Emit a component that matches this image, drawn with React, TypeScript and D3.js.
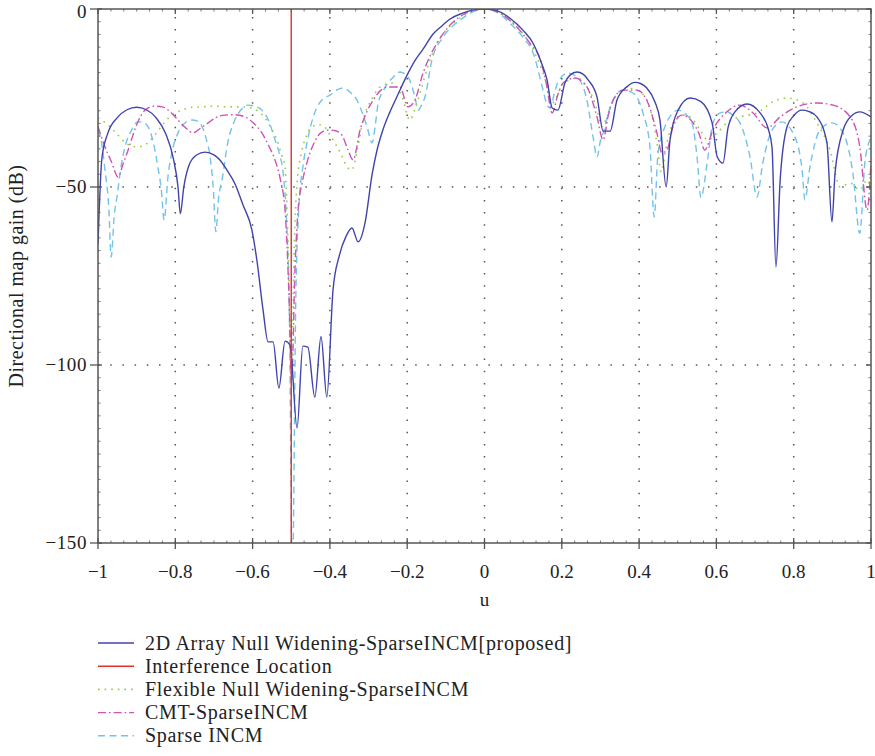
import React from "react";
import * as d3 from "d3";

const blueU = [-1,-0.99,-0.975,-0.95,-0.925,-0.9,-0.875,-0.85,-0.825,-0.805,-0.793,-0.787,-0.778,-0.765,-0.745,-0.723,-0.7,-0.684,-0.665,-0.646,-0.625,-0.602,-0.589,-0.573,-0.56,-0.547,-0.532,-0.516,-0.503,-0.485,-0.47,-0.457,-0.439,-0.423,-0.408,-0.392,-0.376,-0.358,-0.343,-0.327,-0.309,-0.291,-0.278,-0.263,-0.245,-0.226,-0.2,-0.18,-0.159,-0.133,-0.115,-0.089,-0.06,-0.03,0,0.03,0.066,0.1,0.126,0.145,0.162,0.175,0.19,0.208,0.222,0.239,0.255,0.268,0.291,0.307,0.325,0.343,0.369,0.389,0.405,0.42,0.441,0.454,0.47,0.48,0.501,0.532,0.56,0.589,0.602,0.617,0.63,0.648,0.679,0.713,0.735,0.744,0.754,0.765,0.783,0.8,0.821,0.84,0.86,0.886,0.899,0.907,0.928,0.95,0.971,1];
const blueDb = [-66,-42,-35,-30.5,-28.3,-27.6,-28.3,-30.5,-35,-42,-50,-57.5,-50,-44,-41,-40.2,-41,-42.5,-45.5,-49,-55,-62,-70.5,-84.5,-93.5,-93.5,-106.5,-93.3,-94.4,-117.7,-94.7,-95,-109,-92,-109,-79,-69.4,-63.8,-61.5,-65.4,-60,-46.6,-39.6,-34,-29,-24.5,-18.5,-14.5,-11.3,-7,-5.2,-2.8,-1.3,-0.3,0,-0.4,-2.6,-6,-9.7,-14.5,-20,-27.8,-28.4,-20.8,-18.5,-17.7,-18.3,-19.9,-24.7,-34.3,-34.3,-25.5,-21.8,-20.6,-21,-22.2,-26.1,-31.2,-50,-36.8,-28.4,-25,-26,-32,-41.5,-43.3,-33.4,-28.9,-26.7,-29.2,-34,-39,-72.5,-48,-33,-30,-28.4,-28.8,-30.3,-37.6,-59.8,-46,-34,-30,-28.9,-30.3];

const greenU = [-1,-0.98,-0.956,-0.93,-0.904,-0.885,-0.871,-0.85,-0.827,-0.805,-0.783,-0.755,-0.731,-0.7,-0.664,-0.63,-0.602,-0.585,-0.568,-0.552,-0.537,-0.525,-0.516,-0.508,-0.499,-0.493,-0.485,-0.472,-0.46,-0.45,-0.43,-0.415,-0.4,-0.385,-0.37,-0.355,-0.343,-0.33,-0.314,-0.29,-0.27,-0.239,-0.213,-0.193,-0.18,-0.167,-0.141,-0.123,-0.1,-0.07,-0.04,0,0.04,0.08,0.11,0.135,0.162,0.175,0.185,0.2,0.213,0.239,0.265,0.286,0.304,0.317,0.338,0.369,0.402,0.428,0.446,0.457,0.472,0.488,0.511,0.532,0.558,0.578,0.602,0.627,0.661,0.705,0.746,0.783,0.824,0.86,0.894,0.92,0.946,0.971,0.99,1];
const greenDb = [-30.6,-32,-34.5,-37.5,-38.7,-38.5,-37.6,-35,-31.7,-29.5,-28.4,-27.6,-27.5,-27.3,-27.5,-27.5,-27.8,-28.8,-30.6,-33.5,-36.8,-41,-44.4,-66.8,-105,-70,-49,-39.6,-35.5,-33.5,-32.5,-33,-35.4,-38,-41,-44.5,-45.2,-40,-31.2,-25,-21.9,-20.8,-24.7,-31.2,-28,-23.6,-14.3,-9.6,-6,-3,-1,0,-1.2,-4.5,-8.5,-13.5,-21.5,-26.5,-25,-21.5,-20.3,-19.4,-21.9,-26.4,-33,-30.3,-24.7,-22.2,-23.3,-27.8,-37.6,-45.8,-37.6,-32,-29.8,-30.3,-34,-36.8,-34.8,-32,-30.3,-29.2,-26.1,-25,-26.4,-32,-39.6,-50,-48.9,-50.8,-48,-51];

const magU = [-1,-0.982,-0.965,-0.948,-0.935,-0.922,-0.9,-0.878,-0.856,-0.834,-0.812,-0.793,-0.772,-0.754,-0.735,-0.715,-0.695,-0.671,-0.645,-0.62,-0.598,-0.576,-0.558,-0.542,-0.528,-0.516,-0.506,-0.499,-0.49,-0.482,-0.472,-0.459,-0.438,-0.42,-0.4,-0.385,-0.369,-0.353,-0.34,-0.322,-0.305,-0.288,-0.27,-0.25,-0.219,-0.198,-0.18,-0.159,-0.14,-0.123,-0.089,-0.05,0,0.04,0.08,0.12,0.144,0.16,0.175,0.19,0.203,0.234,0.265,0.291,0.307,0.32,0.333,0.358,0.395,0.423,0.446,0.459,0.472,0.488,0.511,0.54,0.555,0.57,0.591,0.627,0.661,0.695,0.731,0.765,0.808,0.86,0.902,0.946,0.971,0.99,1];
const magDb = [-33,-38.7,-43,-47.2,-43.5,-39.6,-32.5,-28.4,-27.3,-27.5,-29,-31.2,-33.5,-34.8,-33.5,-32,-30.5,-29.8,-29.7,-30.3,-32,-34.8,-38.5,-42.4,-48,-56.5,-80,-104,-72,-56,-49,-43,-37,-34.5,-34,-34.2,-35.4,-39.6,-42.4,-34,-29,-25.6,-23,-21.9,-21.9,-27.5,-25.6,-18,-13,-9.6,-4.5,-1.3,0,-1.2,-4.7,-10,-14,-21,-29.2,-24,-20.8,-19.4,-21.9,-30.3,-36.8,-30,-25.6,-22.8,-22.8,-26.4,-34.8,-40.4,-39.6,-33,-29.8,-32,-35,-39.6,-34,-28.9,-27,-29.2,-33.4,-30.3,-27.5,-26.4,-27,-30.3,-38.7,-56.5,-43];

const cyanU = [-1,-0.99,-0.982,-0.972,-0.966,-0.958,-0.951,-0.94,-0.93,-0.913,-0.897,-0.885,-0.871,-0.858,-0.845,-0.836,-0.829,-0.819,-0.806,-0.793,-0.775,-0.757,-0.743,-0.731,-0.72,-0.71,-0.702,-0.695,-0.688,-0.679,-0.665,-0.646,-0.63,-0.612,-0.595,-0.576,-0.558,-0.542,-0.53,-0.521,-0.512,-0.505,-0.497,-0.488,-0.48,-0.47,-0.46,-0.45,-0.435,-0.42,-0.4,-0.383,-0.366,-0.348,-0.33,-0.315,-0.304,-0.291,-0.283,-0.275,-0.262,-0.25,-0.235,-0.219,-0.198,-0.18,-0.172,-0.163,-0.154,-0.136,-0.107,-0.063,-0.03,0,0.03,0.066,0.1,0.126,0.152,0.162,0.17,0.18,0.19,0.216,0.239,0.265,0.281,0.291,0.3,0.307,0.325,0.358,0.384,0.41,0.428,0.439,0.449,0.467,0.485,0.501,0.52,0.537,0.55,0.56,0.576,0.591,0.61,0.627,0.645,0.661,0.687,0.705,0.72,0.744,0.769,0.798,0.821,0.829,0.842,0.868,0.899,0.928,0.953,0.971,0.984,0.997,1];
const cyanDb = [-34,-38,-45.2,-56,-69.7,-58,-52.8,-44,-38.7,-34,-31.7,-31.8,-33,-37,-44.4,-51,-59.3,-47.2,-39,-34.8,-32,-31.2,-31.5,-33,-36.5,-41.5,-50,-62.6,-53,-48,-38,-31.2,-28.3,-27,-27.3,-28.4,-31.5,-36.8,-41,-46,-60,-85,-160,-80,-55,-44.4,-38,-33,-28,-25.5,-24.2,-22.8,-22.2,-23.3,-25.6,-29.5,-33,-37.6,-33,-26.4,-23,-20.8,-19,-17.7,-19.1,-24.7,-28.4,-27,-24.7,-14.3,-7.9,-3.1,-0.8,0,-0.8,-4,-8,-12.4,-23,-27,-27.8,-24,-20.5,-18,-19.1,-25.6,-36,-41.6,-37,-34.8,-27.5,-22.8,-23.6,-29.2,-38.7,-58.4,-40.4,-33,-29.5,-28.4,-29.5,-32,-41.6,-53,-43.3,-32,-29.2,-28.9,-30,-32,-41.6,-52.8,-43.3,-34,-31.7,-34.8,-44.4,-53.6,-44.4,-34,-32,-34.8,-46,-63,-43.3,-36.8,-36];

const interferenceU = -0.5;

const xTicks = [-1, -0.8, -0.6, -0.4, -0.2, 0, 0.2, 0.4, 0.6, 0.8, 1];
const yTicks = [0, -50, -100, -150];

const legendLabels = [
  "2D Array Null Widening-SparseINCM[proposed]",
  "Interference Location",
  "Flexible Null Widening-SparseINCM",
  "CMT-SparseINCM",
  "Sparse INCM",
];

const W = 875, H = 756;
const L = 98, R = 871, T = 9, B = 543;
const FONT = "'Liberation Serif', 'Times New Roman', serif";

const styles = [
  { color: "#3f44ab", dash: null, width: 1.4 },
  { color: "#e0322a", dash: null, width: 1.4 },
  { color: "#93cf3e", dash: "1.6 5", width: 1.6 },
  { color: "#cf52b4", dash: "8 3 1.6 3", width: 1.4 },
  { color: "#72c3e8", dash: "7 4.5", width: 1.4 },
];

function fmt(v: number) {
  const s = String(Math.abs(v));
  return v < 0 ? "\u2212" + s : s;
}

export default function App() {
  const x = d3.scaleLinear().domain([-1, 1]).range([L, R]);
  const y = d3.scaleLinear().domain([-150, 0]).range([B, T]);
  const line = d3
    .line<[number, number]>()
    .x((d) => x(d[0]))
    .y((d) => y(d[1]))
    .curve(d3.curveMonotoneX);
  const zip = (u: number[], v: number[]) => u.map((uu, i) => [uu, v[i]] as [number, number]);

  const series = [
    { data: zip(blueU, blueDb), s: styles[0] },
    { data: zip(greenU, greenDb), s: styles[2] },
    { data: zip(magU, magDb), s: styles[3] },
    { data: zip(cyanU, cyanDb), s: styles[4] },
  ];
  const drawOrder = [series[3], series[1], series[2], series[0]];

  const xMinor = d3.range(-1, 1.0001, 0.2 / 6);
  const yMinor = d3.range(-150, 0.0001, 50 / 14);

  return (
    <svg width={W} height={H} style={{ position: "absolute", left: 0, top: 0, background: "#fff" }}>
      <defs>
        <clipPath id="plotclip">
          <rect x={L} y={T} width={R - L} height={B - T} />
        </clipPath>
      </defs>
      {/* grid */}
      <g stroke="#555" strokeWidth={1.5} strokeDasharray="1.5 10.7">
        {xTicks.slice(1, -1).map((t) => (
          <line key={"gx" + t} x1={x(t)} x2={x(t)} y1={B} y2={T} />
        ))}
        {yTicks.slice(1, -1).map((t) => (
          <line key={"gy" + t} x1={L} x2={R} y1={y(t)} y2={y(t)} />
        ))}
      </g>
      {/* series */}
      <g clipPath="url(#plotclip)" fill="none">
        {drawOrder.map((sr, i) => (
          <path
            key={i}
            d={line(sr.data) || ""}
            stroke={sr.s.color}
            strokeWidth={sr.s.width}
            strokeDasharray={sr.s.dash || undefined}
            strokeLinejoin="round"
          />
        ))}
        <line
          x1={x(interferenceU)}
          x2={x(interferenceU)}
          y1={y(0)}
          y2={y(-150)}
          stroke={styles[1].color}
          strokeWidth={1.4}
        />
      </g>
      {/* axes box */}
      <g stroke="#555" fill="none">
        <rect x={L} y={T} width={R - L} height={B - T} strokeWidth={1.5} />
        {xTicks.map((t) => (
          <g key={"tx" + t}>
            <line x1={x(t)} x2={x(t)} y1={B - 5} y2={B + 6} strokeWidth={1.3} />
            <line x1={x(t)} x2={x(t)} y1={T} y2={T + 5} strokeWidth={1.3} />
          </g>
        ))}
        {yTicks.map((t) => (
          <g key={"ty" + t}>
            <line x1={L - 8} x2={L + 4} y1={y(t)} y2={y(t)} strokeWidth={1.3} />
            <line x1={R - 5} x2={R} y1={y(t)} y2={y(t)} strokeWidth={1.3} />
          </g>
        ))}
        {xMinor.map((t, i) => (
          <g key={"mx" + i}>
            <line x1={x(t)} x2={x(t)} y1={B - 2.5} y2={B} strokeWidth={0.8} />
            <line x1={x(t)} x2={x(t)} y1={T} y2={T + 2.5} strokeWidth={0.8} />
          </g>
        ))}
        {yMinor.map((t, i) => (
          <g key={"my" + i}>
            <line x1={L} x2={L + 2.5} y1={y(t)} y2={y(t)} strokeWidth={0.8} />
            <line x1={R - 2.5} x2={R} y1={y(t)} y2={y(t)} strokeWidth={0.8} />
          </g>
        ))}
      </g>
      {/* tick labels */}
      <g fontFamily={FONT} fontSize={19} fill="#222">
        {xTicks.map((t) => (
          <text key={"lx" + t} x={x(t)} y={B + 35} textAnchor="middle">
            {fmt(t)}
          </text>
        ))}
        {yTicks.map((t) => (
          <text
            key={"ly" + t}
            x={L - 11}
            y={Math.max(y(t) + 6, 17.5)}
            textAnchor="end"
            letterSpacing={0.6}
          >
            {fmt(t)}
          </text>
        ))}
        <text x={(L + R) / 2} y={606} textAnchor="middle">u</text>
        <text
          transform={`translate(23, ${(T + B) / 2}) rotate(-90)`}
          textAnchor="middle"
          fontSize={20}
          letterSpacing={0.5}
        >
          Directional map gain (dB)
        </text>
      </g>
      {/* legend */}
      <g fontFamily={FONT} fontSize={20} fill="#222" letterSpacing={0.7}>
        {legendLabels.map((lab, i) => {
          const yy = 643 + i * 23.2;
          const st = styles[i];
          return (
            <g key={lab}>
              <line
                x1={98}
                x2={134}
                y1={yy}
                y2={yy}
                stroke={st.color}
                strokeWidth={st.width}
                strokeDasharray={st.dash || undefined}
              />
              <text x={145} y={yy + 6.5}>{lab}</text>
            </g>
          );
        })}
      </g>
    </svg>
  );
}
